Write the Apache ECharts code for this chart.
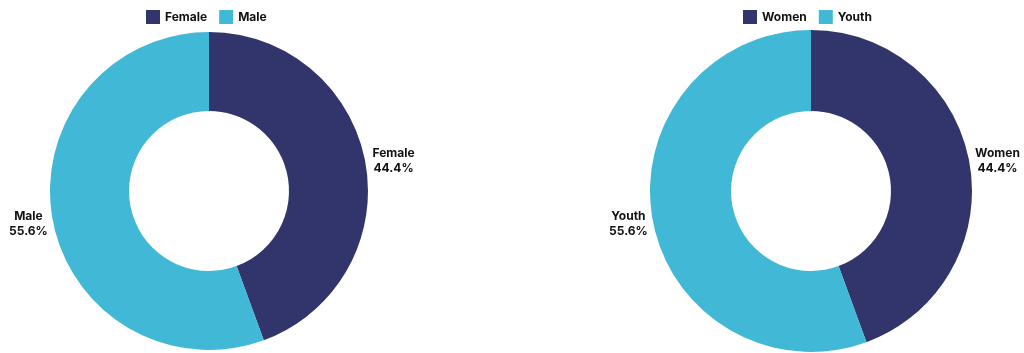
<!DOCTYPE html>
<html><head><meta charset="utf-8">
<script src="https://cdn.jsdelivr.net/npm/echarts@6/dist/echarts.min.js"></script>
<style>html,body{margin:0;padding:0;background:#fff}#c{width:1024px;height:353px}</style>
</head><body><div id="c"></div>
<script>
const genderCategories = ['Female', 'Male'];
const genderValues = [44.4, 55.6];
const groupCategories = ['Women', 'Youth'];
const groupValues = [44.4, 55.6];
const colors = ['#32356B', '#41B8D5'];
const font = 'Inter, "Noto Sans", sans-serif';

function pieSeries(cats, vals, cx, r) {
  return {
    type: 'pie',
    center: [cx, 191],
    radius: [80, r],
    startAngle: 90,
    clockwise: true,
    avoidLabelOverlap: false,
    data: cats.map((c, i) => ({
      name: c, value: vals[i], itemStyle: { color: colors[i] },
      label: { padding: i === 1 ? [10, 0, 0, 0] : [0, 0, 4, 0] },
      labelLine: { length: i === 1 ? -2 : 2, length2: 0 }
    })),
    label: {
      show: true,
      position: 'outside',
      formatter: p => '{a|' + p.name + '}\n{a|' + p.value.toFixed(1) + '%}',
      rich: { a: { width: 42, align: 'center', fontFamily: font, fontWeight: 'bold', fontSize: 12, color: '#111', lineHeight: 15 } }
    },
    labelLine: { show: false, length: 2, length2: 0 },
    emphasis: { disabled: true }
  };
}
function legend(cats, left) {
  return {
    data: cats, left: left, top: 5, orient: 'horizontal',
    icon: 'rect', itemWidth: 14, itemHeight: 14, itemGap: 12,
    textStyle: { fontFamily: font, fontWeight: 'bold', fontSize: 12, color: '#111' }
  };
}
const chart = echarts.init(document.getElementById('c'));
chart.setOption({
  animation: false,
  legend: [legend(genderCategories, 141), legend(groupCategories, 738)],
  series: [pieSeries(genderCategories, genderValues, 209, 159), pieSeries(groupCategories, groupValues, 811, 161)]
});
</script></body></html>
